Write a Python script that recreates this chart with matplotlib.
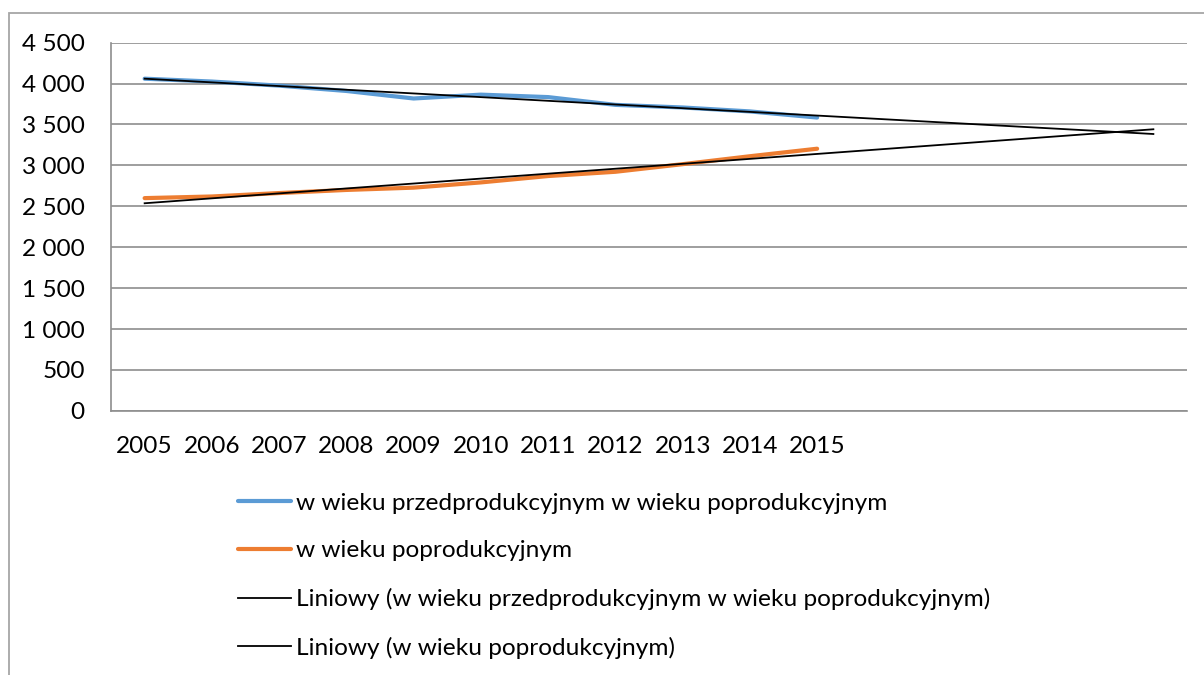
import numpy as np
import matplotlib
matplotlib.use("Agg")
import matplotlib.pyplot as plt
from matplotlib.patches import Rectangle

years = [2005, 2006, 2007, 2008, 2009, 2010, 2011, 2012, 2013, 2014, 2015]
przed = [4060, 4025, 3975, 3910, 3818, 3865, 3835, 3740, 3708, 3660, 3585]
popro = [2600, 2620, 2662, 2700, 2728, 2792, 2870, 2922, 3015, 3112, 3204]
forecast_periods = 5
yticks = [0, 500, 1000, 1500, 2000, 2500, 3000, 3500, 4000, 4500]
ytick_labels = ["0", "500", "1 000", "1 500", "2 000", "2 500", "3 000", "3 500", "4 000", "4 500"]
labels = ["w wieku przedprodukcyjnym w wieku poprodukcyjnym",
          "w wieku poprodukcyjnym",
          "Liniowy (w wieku przedprodukcyjnym w wieku poprodukcyjnym)",
          "Liniowy (w wieku poprodukcyjnym)"]

plt.rcParams['font.family'] = ['Lato', 'DejaVu Sans']
FS = 17.6
W, H = 1204, 675
fig = plt.figure(figsize=(W / 100, H / 100), dpi=100)
ax = fig.add_axes([111 / W, 1 - 410.8 / H, (1187 - 111) / W, (410.8 - 42.7) / H])

x = np.arange(len(years))
xt = np.arange(len(years) + forecast_periods)
blue = '#5B9BD5'
orange = '#ED7D31'

l1, = ax.plot(x, przed, color=blue, lw=3, solid_capstyle='round', zorder=3)
l2, = ax.plot(x, popro, color=orange, lw=3, solid_capstyle='round', zorder=3)
p1 = np.polyfit(x, przed, 1)
p2 = np.polyfit(x, popro, 1)
l3, = ax.plot(xt, np.polyval(p1, xt), color='black', lw=1.3, zorder=4)
l4, = ax.plot(xt, np.polyval(p2, xt), color='black', lw=1.3, zorder=4)

ax.set_xlim(-0.5, len(xt) - 0.5)
ax.set_ylim(0, 4500)
ax.set_yticks(yticks)
ax.set_yticklabels(ytick_labels)
ax.set_xticks(x)
ax.set_xticklabels([str(y) for y in years])
ax.grid(axis='y', color='#8e8e8e', lw=1.2)
ax.set_axisbelow(True)
for s in ['top', 'right']:
    ax.spines[s].set_visible(False)
for s in ['left', 'bottom']:
    ax.spines[s].set_color('#8e8e8e')
    ax.spines[s].set_linewidth(1.2)
ax.tick_params(axis='y', length=0, pad=19, labelsize=FS, colors='black')
ax.tick_params(axis='x', length=0, pad=18, labelsize=FS, colors='black')

leg = fig.legend([l1, l2, l3, l4], labels, loc='upper left',
                 bbox_to_anchor=(238 / W, 1 - 492.5 / H), frameon=False,
                 fontsize=FS, handlelength=2.17, handletextpad=0.2,
                 labelspacing=1.09, borderpad=0, borderaxespad=0)

fig.add_artist(Rectangle((9 / W, -0.1), 1.2, 1 - 12.7 / H + 0.1,
                         transform=fig.transFigure, fill=False,
                         edgecolor='#a6a6a6', lw=1.3))

fig.savefig("out.png", dpi=100)
